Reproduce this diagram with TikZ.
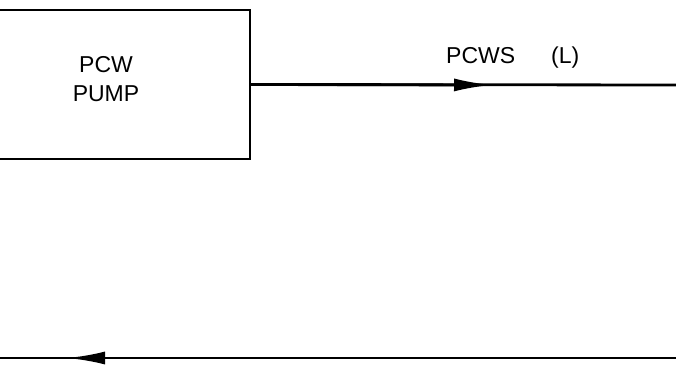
\documentclass[tikz,border=0pt]{standalone}
\usepackage{fontspec}
\setmainfont{Liberation Sans}
\usetikzlibrary{arrows.meta,positioning}

\tikzset{
  unitbox/.style={draw,line width=1.5pt,minimum width=290pt,minimum height=149pt},
  boxtext/.style={align=center,font=\fontsize{23}{29}\selectfont},
  flowline/.style={line width=2.8pt},
  flowarrow/.style={flowline,-{Latex[length=38pt,width=13pt]}},
  tag/.style={font=\fontsize{23}{28}\selectfont,anchor=base west,inner sep=0pt}
}

\begin{document}
\begin{tikzpicture}[x=1pt,y=-1pt]
\useasboundingbox (0,0) rectangle (676,364);
\clip (0,0) rectangle (676,364);
\node[unitbox] (pump) at (105,84.5) {};
\node[boxtext] (pumptext) at (106,79) {PCW\\PUMP};
% supply line
\coordinate (supplytip) at (492,85);
\coordinate (supplyend) at (690,85);
\draw[flowline] (pump.east) -- (supplyend);
\draw[flowarrow] (pump.east) -- (supplytip);
\node[tag] (supplylbl) at (446,63) {PCWS\hspace{36pt}(L)};
% return line
\coordinate (returnstart) at (690,358);
\coordinate (returntip) at (67,358);
\coordinate (returnend) at (-10,358);
\draw[flowline] (returnstart) -- (returnend);
\draw[flowarrow] (returnstart) -- (returntip);
\end{tikzpicture}
\end{document}
